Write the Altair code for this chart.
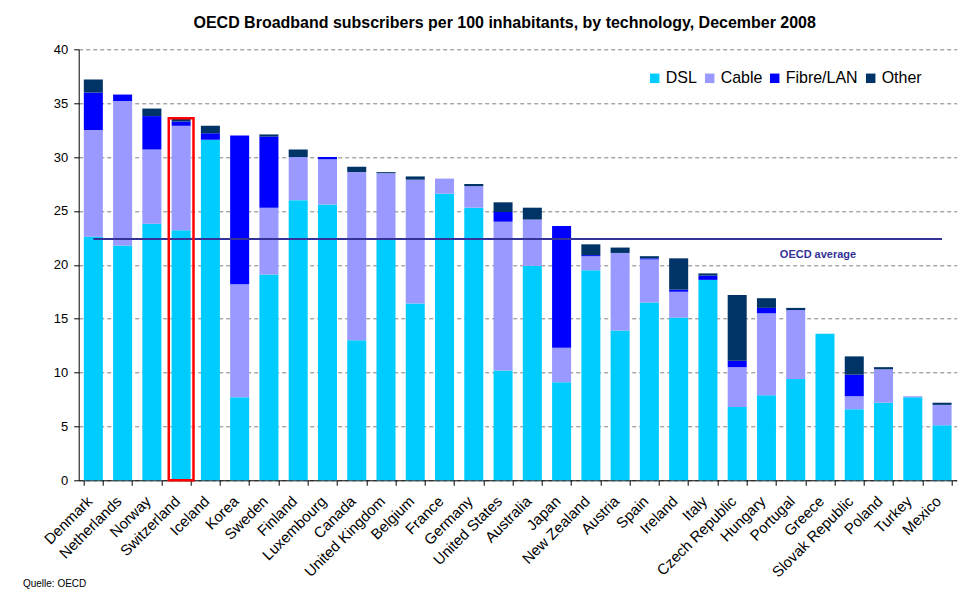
import altair as alt
import pandas as pd

countries = ["Denmark", "Netherlands", "Norway", "Switzerland", "Iceland", "Korea",
             "Sweden", "Finland", "Luxembourg", "Canada", "United Kingdom", "Belgium",
             "France", "Germany", "United States", "Australia", "Japan", "New Zealand",
             "Austria", "Spain", "Ireland", "Italy", "Czech Republic", "Hungary",
             "Portugal", "Greece", "Slovak Republic", "Poland", "Turkey", "Mexico"]
dsl = [22.6, 21.8, 23.8, 23.2, 31.6, 7.7, 19.1, 26.0, 25.6, 13.0, 22.4, 16.4, 26.6, 25.3, 10.2,
       19.9, 9.1, 19.5, 13.9, 16.5, 15.1, 18.6, 6.8, 7.9, 9.4, 13.6, 6.6, 7.2, 7.7, 5.1]
cable = [9.9, 13.4, 6.9, 9.7, 0.0, 10.5, 6.2, 4.0, 4.2, 15.6, 6.1, 11.5, 1.4, 2.0, 13.8,
         4.3, 3.2, 1.3, 7.2, 4.0, 2.4, 0.0, 3.7, 7.6, 6.4, 0.0, 1.2, 3.1, 0.1, 1.9]
fibre = [3.5, 0.6, 3.1, 0.4, 0.6, 13.8, 6.6, 0.0, 0.2, 0.0, 0.0, 0.0, 0.0, 0.0, 0.9,
         0.0, 11.3, 0.1, 0.0, 0.1, 0.2, 0.4, 0.6, 0.5, 0.0, 0.0, 2.0, 0.0, 0.0, 0.0]
other = [1.2, 0.0, 0.7, 0.3, 0.7, 0.0, 0.2, 0.7, 0.0, 0.5, 0.1, 0.3, 0.0, 0.2, 0.9,
         1.1, 0.0, 1.0, 0.5, 0.2, 2.9, 0.2, 6.1, 0.9, 0.2, 0.0, 1.7, 0.2, 0.0, 0.2]
techs = ["DSL", "Cable", "Fibre/LAN", "Other"]
tech_colors = ["#00CCFF", "#9999FF", "#0000FF", "#003366"]
oecd_average = 22.4
highlight_country = "Switzerland"
highlight_top = 33.6
title_text = "OECD Broadband subscribers per 100 inhabitants, by technology, December 2008"
source_text = "Quelle: OECD"
FONT = "Liberation Sans"

rows = []
for k, (tech, vals) in enumerate(zip(techs, [dsl, cable, fibre, other])):
    for c, v in zip(countries, vals):
        rows.append({"country": c, "tech": tech, "value": v, "k": k})
df = pd.DataFrame(rows)

x_scale = alt.Scale(domain=countries, paddingInner=0.35, paddingOuter=0.175)
y_scale = alt.Scale(domain=[0, 40], nice=False, zero=True)


def xenc(axis=True):
    if axis:
        return alt.X("country:N", sort=countries, scale=x_scale, title=None,
                     axis=alt.Axis(labelAngle=-45, labelFontSize=15, labelFont=FONT,
                                   labelColor="black", tickBand="extent", tickSize=5,
                                   tickColor="black", domainColor="black", labelPadding=13,
                                   labelOffset=-4,
                                   labelAlign="right", labelBaseline="middle", grid=False,
                                   labelLimit=0))
    return alt.X("country:N", sort=countries, scale=x_scale, title=None)


def yenc(axis=True):
    if axis:
        return alt.Y("value:Q", scale=y_scale, title=None, stack="zero",
                     axis=alt.Axis(values=list(range(0, 45, 5)), grid=True, gridDash=[4, 3],
                                   gridColor="#808080", gridWidth=1, labelFontSize=13,
                                   labelFont=FONT, labelColor="black", tickSize=5,
                                   tickColor="black", domainColor="black", labelPadding=6))
    return alt.Y("value:Q", scale=y_scale, title=None)


bars = alt.Chart(df).mark_bar().encode(
    x=xenc(),
    y=yenc(),
    color=alt.Color("tech:N", scale=alt.Scale(domain=techs, range=tech_colors),
                    legend=alt.Legend(title=None, orient="none", legendX=568, legendY=21,
                                      direction="horizontal", symbolType="square",
                                      symbolSize=90, symbolStrokeWidth=0,
                                      labelFontSize=16, labelFont=FONT, labelColor="black",
                                      columnPadding=4, labelOffset=3)),
    order=alt.Order("k:Q", sort="ascending"),
)

hl_df = pd.DataFrame({"country": [highlight_country], "value": [0.0], "top": [highlight_top]})
highlight = alt.Chart(hl_df).mark_bar(
    filled=False, stroke="#FF0000", strokeWidth=2.5, width=alt.RelativeBandSize(1.3)
).encode(x=xenc(False), y=yenc(False), y2="top:Q")

avg_df = pd.DataFrame({"country": [countries[0], countries[-1]],
                       "value": [oecd_average, oecd_average]})
avg_line = alt.Chart(avg_df).mark_line(color="#333399", strokeWidth=2).encode(
    x=xenc(False), y=yenc(False))

lab_df = pd.DataFrame({"country": ["Greece"], "value": [20.9], "label": ["OECD average"]})
avg_label = alt.Chart(lab_df).mark_text(
    font=FONT, fontSize=11, fontWeight="bold", color="#333399", dx=-7,
    align="center", baseline="middle"
).encode(x=xenc(False), y=yenc(False), text="label:N")

src_df = pd.DataFrame({"label": [source_text]})
source = alt.Chart(src_df).mark_text(
    font=FONT, fontSize=10, color="black", align="left", baseline="middle"
).encode(x=alt.value(-55.7), y=alt.value(534.7), text="label:N")

chart = alt.layer(bars, avg_line, highlight, avg_label, source).properties(
    width=878, height=431,
    autosize=alt.AutoSizeParams(type="none"),
    padding={"left": 70.7, "top": 41.3, "right": 10, "bottom": 110},
    title=alt.TitleParams(text=title_text, font=FONT, fontSize=16, fontWeight="bold",
                          color="black", anchor="middle", dx=-13, offset=12),
    background="white",
).configure_view(stroke=None)

chart.save("out.html", embed_options={"renderer": "svg", "actions": False})
